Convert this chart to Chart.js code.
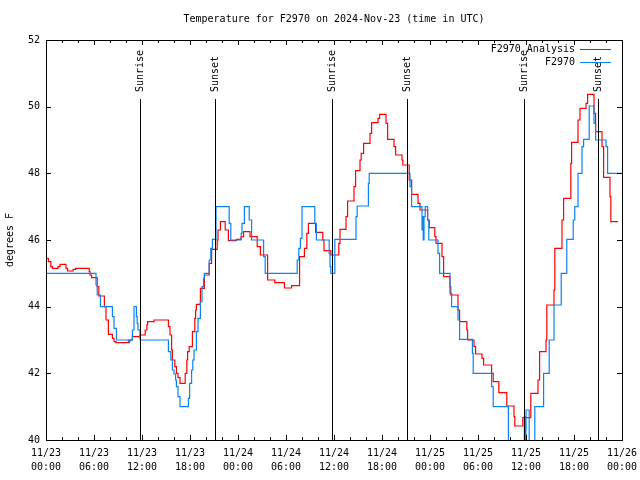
<!DOCTYPE html>
<html>
<head>
<meta charset="utf-8">
<script src="https://cdn.jsdelivr.net/npm/chart.js@4.4.0/dist/chart.umd.min.js"></script>
<style>
  body { margin: 0; background: #fff; }
  canvas { display: block; }
</style>
</head>
<body>
<canvas id="grafico" width="640" height="480"></canvas>
<script>
// hours since 11/23 00:00 UTC, and temperature (F)
const horasAnalisis = [0, 0.3, 0.6, 0.8, 1.5, 1.75, 2.5, 2.7, 3.4, 3.7, 5.4, 5.5, 5.7, 6.4, 6.6, 7.3, 7.5, 7.8, 8.3, 8.5, 8.75, 10.4, 10.8, 11.75, 12.4, 12.6, 12.7, 13.5, 15.3, 15.5, 15.7, 15.8, 16.1, 16.3, 16.5, 16.75, 17.4, 17.6, 17.7, 17.9, 18.3, 18.6, 18.7, 18.8, 19.3, 19.8, 20.4, 20.7, 21.4, 21.5, 21.8, 22.4, 22.8, 23.8, 24.4, 24.7, 25.5, 26.4, 26.8, 27.7, 28.6, 29.8, 30.7, 31.7, 32.3, 32.6, 32.8, 33.7, 34.6, 34.75, 35.6, 36.6, 36.75, 37.5, 37.7, 38.5, 38.7, 39.25, 39.4, 39.7, 40.5, 40.7, 41.5, 41.7, 42.5, 42.7, 43.5, 43.7, 44.5, 44.6, 45.4, 45.7, 46.5, 46.75, 47.7, 47.9, 48.6, 48.75, 49.5, 49.7, 50.5, 50.6, 51.5, 51.7, 52.6, 52.7, 53.5, 53.7, 54.5, 54.7, 55.7, 55.9, 56.6, 57.6, 58.5, 58.6, 59.6, 60.6, 61.5, 61.7, 62.5, 62.6, 63.5, 63.6, 64.5, 64.7, 65.6, 65.7, 66.5, 66.75, 67.5, 67.7, 68.5, 68.7, 69.5, 69.7, 70.5, 70.6, 71.5];
const tempAnalisis = [45.45, 45.35, 45.2, 45.15, 45.2, 45.27, 45.15, 45.07, 45.12, 45.15, 45.05, 44.95, 44.87, 44.6, 44.32, 44.0, 43.6, 43.17, 43.05, 42.95, 42.92, 43.0, 43.1, 43.15, 43.3, 43.45, 43.55, 43.6, 43.4, 43.15, 42.7, 42.4, 42.2, 42.0, 41.87, 41.7, 42.0, 42.4, 42.65, 42.8, 43.25, 43.65, 43.9, 44.07, 44.55, 44.95, 45.3, 45.72, 46.0, 46.3, 46.55, 46.3, 45.98, 46.02, 46.1, 46.25, 46.1, 45.8, 45.55, 44.8, 44.72, 44.56, 44.63, 45.5, 45.75, 46.2, 46.5, 46.23, 46.0, 45.68, 45.55, 45.9, 46.32, 46.7, 47.17, 47.6, 48.08, 48.4, 48.6, 48.9, 49.2, 49.52, 49.65, 49.77, 49.5, 49.02, 48.8, 48.55, 48.4, 48.25, 47.8, 47.37, 47.1, 46.9, 46.6, 46.37, 46.1, 45.9, 45.5, 44.9, 44.6, 44.35, 43.9, 43.55, 43.3, 43.0, 42.8, 42.58, 42.45, 42.25, 42.0, 41.75, 41.42, 41.02, 40.7, 40.42, 40.67, 41.4, 41.8, 42.65, 43.0, 44.05, 44.5, 45.75, 46.6, 47.25, 48.3, 48.93, 49.6, 49.95, 50.1, 50.37, 49.8, 49.25, 48.8, 47.88, 47.3, 46.55, 46.55];

const horasEstacion = [0, 6.25, 6.4, 6.8, 8.3, 8.5, 8.8, 10.3, 10.5, 10.8, 11.0, 11.3, 11.4, 11.5, 11.75, 15.3, 15.6, 15.8, 16.0, 16.2, 16.3, 16.5, 16.75, 17.8, 17.95, 18.2, 18.35, 18.5, 18.8, 19.0, 19.3, 19.5, 19.7, 19.8, 20.4, 20.6, 20.8, 21.25, 22.9, 23.1, 24.4, 24.5, 24.8, 25.4, 25.7, 27.2, 27.4, 31.4, 31.6, 31.8, 32.0, 33.6, 33.8, 35.4, 35.5, 35.6, 36.1, 38.75, 38.9, 40.3, 40.4, 45.5, 45.7, 47.0, 47.1, 47.15, 47.25, 47.4, 47.7, 47.85, 49.0, 49.2, 50.5, 50.7, 51.5, 51.7, 53.3, 53.4, 55.7, 55.9, 57.8, 59.8, 59.9, 60.0, 60.4, 61.1, 62.2, 62.9, 63.5, 64.4, 65.1, 65.9, 66.1, 66.5, 67.0, 67.2, 67.9, 68.5, 68.7, 70.0, 70.2, 72];
const tempEstacion = [45.0, 44.65, 44.35, 44.0, 43.7, 43.35, 43.0, 42.95, 43.0, 43.3, 44.0, 43.7, 43.5, 43.3, 43.0, 42.65, 42.4, 42.1, 41.98, 41.8, 41.6, 41.3, 41.0, 41.25, 41.7, 42.1, 42.4, 42.7, 43.25, 43.65, 44.15, 44.6, 44.85, 45.0, 45.4, 45.75, 46.02, 47.0, 46.5, 46.0, 46.2, 46.5, 47.0, 46.6, 46.0, 45.5, 45.0, 45.4, 45.75, 46.05, 47.0, 46.5, 46.0, 45.6, 45.2, 45.0, 46.02, 46.7, 47.02, 47.7, 48.0, 47.6, 47.0, 46.3, 46.7, 46.0, 46.7, 47.0, 46.6, 46.0, 45.6, 45.0, 44.4, 44.0, 43.6, 43.02, 42.6, 42.0, 41.6, 41.0, 39.5, 40.7, 39.5, 40.9, 39.5, 41.0, 42.0, 43.0, 44.05, 45.0, 46.02, 46.6, 47.0, 48.0, 48.8, 49.02, 50.02, 49.5, 49.0, 48.8, 48.0, 48.0];

const horasSol = [11.78, 21.16, 35.79, 45.16, 59.79, 69.04];
const etiquetasSol = ["Sunrise", "Sunset", "Sunrise", "Sunset", "Sunrise", "Sunset"];

const etiquetasX = [
  ["11/23", "00:00"], ["11/23", "06:00"], ["11/23", "12:00"], ["11/23", "18:00"],
  ["11/24", "00:00"], ["11/24", "06:00"], ["11/24", "12:00"], ["11/24", "18:00"],
  ["11/25", "00:00"], ["11/25", "06:00"], ["11/25", "12:00"], ["11/25", "18:00"],
  ["11/26", "00:00"]
];

const fuente = { family: "'DejaVu Sans Mono', monospace", size: 10, lineHeight: 1.4 };
const FONT = "10px 'DejaVu Sans Mono', monospace";

function puntos(horas, temps) {
  return horas.map((h, i) => ({ x: h, y: temps[i] }));
}

// frame, inward ticks, sun lines, title, legend
const adornos = {
  id: "adornos",
  afterDraw(chart) {
    const ctx = chart.ctx;
    const a = chart.chartArea;
    const x = chart.scales.x;
    const y = chart.scales.y;
    ctx.save();
    ctx.strokeStyle = "#000";
    ctx.fillStyle = "#000";
    ctx.lineWidth = 1;

    // sunrise / sunset
    ctx.font = FONT;
    horasSol.forEach((h, i) => {
      const px = Math.round(x.getPixelForValue(h)) + 0.5;
      ctx.beginPath();
      ctx.moveTo(px, 99);
      ctx.lineTo(px, a.bottom);
      ctx.stroke();
      ctx.save();
      ctx.translate(px, 92);
      ctx.rotate(-Math.PI / 2);
      ctx.textAlign = "left";
      ctx.textBaseline = "middle";
      ctx.fillText(etiquetasSol[i], 0, 0);
      ctx.restore();
    });

    // frame
    ctx.strokeRect(Math.round(a.left) + 0.5, Math.round(a.top) + 0.5,
      Math.round(a.right - a.left), Math.round(a.bottom - a.top));

    // ticks
    ctx.beginPath();
    for (let v = 40; v <= 52; v += 2) {
      const py = Math.round(y.getPixelForValue(v)) + 0.5;
      ctx.moveTo(a.left, py); ctx.lineTo(a.left + 5, py);
      ctx.moveTo(a.right, py); ctx.lineTo(a.right - 5, py);
    }
    for (let h = 0; h <= 72; h += 2) {
      const px = Math.round(x.getPixelForValue(h)) + 0.5;
      const largo = h % 6 === 0 ? 5 : 3;
      ctx.moveTo(px, a.bottom); ctx.lineTo(px, a.bottom - largo);
      ctx.moveTo(px, a.top); ctx.lineTo(px, a.top + largo);
    }
    ctx.stroke();

    // title
    ctx.textAlign = "center";
    ctx.textBaseline = "middle";
    ctx.fillText("Temperature for F2970 on 2024-Nov-23 (time in UTC)", (a.left + a.right) / 2, 19);

    // y axis title
    ctx.save();
    ctx.translate(10, 240);
    ctx.rotate(-Math.PI / 2);
    ctx.fillText("degrees F", 0, 0);
    ctx.restore();

    // legend
    ctx.textAlign = "right";
    chart.data.datasets.forEach((ds, i) => {
      const ly = 49 + i * 13;
      ctx.fillStyle = "#000";
      ctx.fillText(ds.label, 575, ly);
      ctx.strokeStyle = ds.borderColor;
      ctx.beginPath();
      ctx.moveTo(580, ly + 0.5);
      ctx.lineTo(611, ly + 0.5);
      ctx.stroke();
    });
    ctx.restore();
  }
};

const ctx = document.getElementById("grafico").getContext("2d");
new Chart(ctx, {
  type: "line",
  data: {
    datasets: [
      {
        label: "F2970 Analysis",
        data: puntos(horasAnalisis, tempAnalisis),
        borderColor: "#ff0000",
        borderWidth: 1.2,
        stepped: true,
        pointRadius: 0,
        fill: false,
        order: 1
      },
      {
        label: "F2970",
        data: puntos(horasEstacion, tempEstacion),
        borderColor: "#0a84f5",
        borderWidth: 1.2,
        stepped: true,
        pointRadius: 0,
        fill: false,
        order: 0
      }
    ]
  },
  options: {
    responsive: false,
    animation: false,
    layout: { padding: { top: 40, right: 18, left: 0, bottom: 0 } },
    plugins: {
      legend: { display: false },
      tooltip: { enabled: false }
    },
    scales: {
      x: {
        type: "linear",
        min: 0,
        max: 72,
        afterFit: s => { s.height = 40; s.paddingLeft = 0; s.paddingRight = 0; },
        grid: { display: false, drawTicks: false },
        border: { display: false },
        ticks: {
          stepSize: 6,
          autoSkip: false,
          maxRotation: 0,
          padding: 6,
          color: "#000",
          font: fuente,
          callback: v => etiquetasX[v / 6]
        }
      },
      y: {
        min: 40,
        max: 52,
        afterFit: s => { s.width = 46; s.paddingTop = 0; s.paddingBottom = 0; },
        grid: { display: false, drawTicks: false },
        border: { display: false },
        ticks: {
          stepSize: 2,
          padding: 6,
          color: "#000",
          font: fuente
        }
      }
    }
  },
  plugins: [adornos]
});
</script>
</body>
</html>
